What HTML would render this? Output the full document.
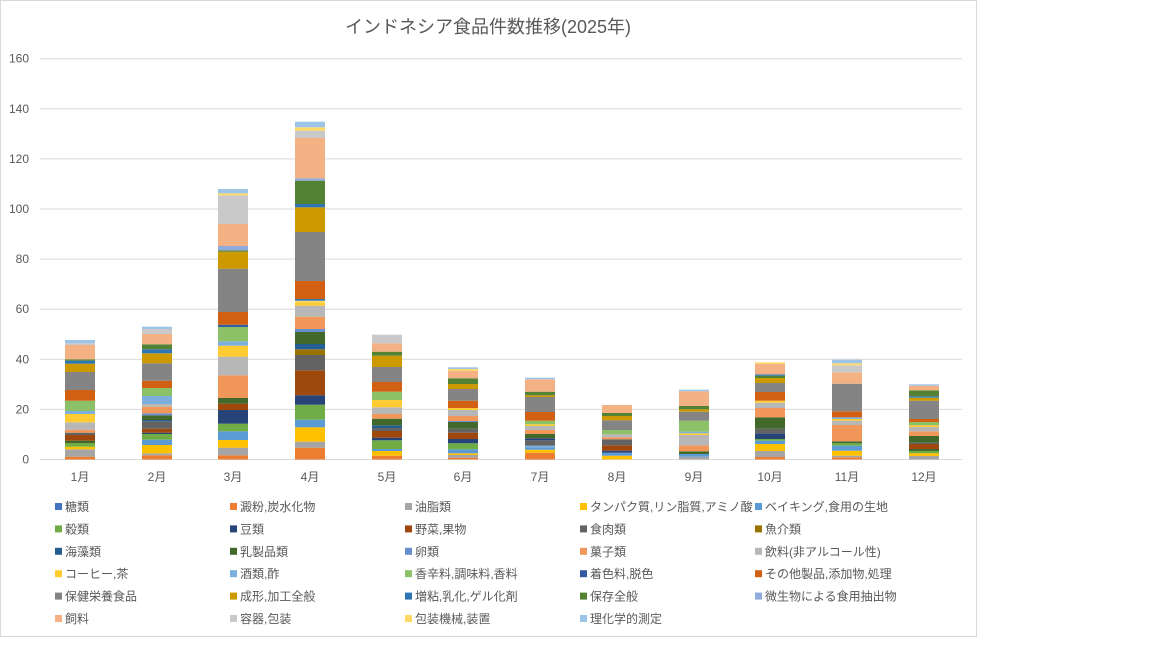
<!DOCTYPE html>
<html><head><meta charset="utf-8">
<style>
html,body{margin:0;padding:0;background:#fff;}
body{width:1152px;height:648px;overflow:hidden;font-family:"Liberation Sans","Noto Sans CJK JP",sans-serif;}
svg text{font-family:"Liberation Sans","Noto Sans CJK JP",sans-serif;fill:#595959;}
</style></head><body>
<svg id="s" width="1152" height="648" xmlns="http://www.w3.org/2000/svg">
<rect x="0.5" y="0.5" width="976" height="636" fill="#fff" stroke="#d9d9d9"/>
<text x="488" y="33" font-size="18" text-anchor="middle">インドネシア食品件数推移(2025年)</text>
<g id="grid"></g><g id="bars"></g><g id="leg"></g>
</svg>
<script>
var NS="http://www.w3.org/2000/svg";
function el(p,t,a,txt){var e=document.createElementNS(NS,t);for(var k in a)e.setAttribute(k,a[k]);if(txt!=null)e.textContent=txt;p.appendChild(e);return e;}
var g=document.getElementById('grid');
for(var i=0;i<=8;i++){var y=459.5-i*50.1;el(g,'line',{x1:40,x2:962,y1:y,y2:y,stroke:i==0?'#d9d9d9':'#d9d9d9','stroke-width':1});
el(g,'text',{x:29,y:y+4,'font-size':12,'text-anchor':'end'},String(i*20));}
var C={a:'#4472C4',b:'#ED7D31',c:'#A5A5A5',d:'#FFC000',e:'#5B9BD5',f:'#70AD47',g:'#264478',h:'#9E480E',i:'#636363',j:'#997300',k:'#255E91',l:'#43682B',m:'#698ED0',n:'#F1975A',o:'#B7B7B7',p:'#FFCD33',q:'#7CAFDD',r:'#8CC168',s:'#335AA1',t:'#D26012',u:'#848484',v:'#CC9A00',w:'#2E75B6',x:'#548235',y:'#8FAADC',z:'#F4B183',A:'#C9C9C9',B:'#FFD966',C:'#9DC3E6'};
var B=[
[80,[[456.7,'b'],[449.3,'c'],[446.7,'d'],[443,'f'],[440.7,'l'],[435,'h'],[432.7,'i'],[429.7,'n'],[422.3,'o'],[414,'p'],[411,'q'],[400.7,'r'],[390,'t'],[372,'u'],[363.7,'v'],[360.7,'w'],[359.3,'x'],[345,'z'],[343.3,'A'],[340,'C']]],
[157,[[455.3,'b'],[453.3,'c'],[445,'d'],[439.7,'e'],[434,'f'],[432.7,'g'],[428.7,'h'],[421.3,'i'],[420,'k'],[415.3,'l'],[413.3,'m'],[406.7,'n'],[404,'o'],[396,'q'],[388,'r'],[380.7,'t'],[363.3,'u'],[353.3,'v'],[349.3,'w'],[344.3,'x'],[334,'z'],[329,'A'],[326.7,'C']]],
[233,[[455.3,'b'],[447.7,'c'],[440,'d'],[431.3,'e'],[423.7,'f'],[410,'g'],[403.7,'h'],[398,'l'],[375.3,'n'],[356.7,'o'],[345.7,'p'],[341.3,'q'],[327,'r'],[324.7,'s'],[312,'t'],[268.7,'u'],[251.7,'v'],[250.3,'x'],[246,'y'],[224,'z'],[195.3,'A'],[193.3,'B'],[189,'C']]],
[310,[[447.7,'b'],[441.7,'c'],[427.3,'d'],[419.7,'e'],[404.7,'f'],[395.3,'g'],[370.3,'h'],[355,'i'],[349.3,'j'],[344,'k'],[332,'l'],[329,'m'],[316.7,'n'],[305.7,'o'],[302.3,'p'],[300.7,'B'],[299,'w'],[281,'t'],[232,'u'],[207.3,'v'],[204,'w'],[180.7,'x'],[178.3,'y'],[138,'z'],[130.7,'A'],[127.3,'B'],[121.7,'C']]],
[387,[[455.7,'b'],[451,'d'],[449,'e'],[440.3,'f'],[437.7,'g'],[431,'h'],[428,'i'],[425.3,'k'],[418.7,'l'],[414,'n'],[407.3,'o'],[400,'p'],[391.7,'r'],[382,'t'],[367,'u'],[355.7,'v'],[351.7,'x'],[343.3,'z'],[334.7,'A']]],
[463,[[457.7,'b'],[455,'c'],[453.3,'d'],[449.3,'e'],[443.3,'f'],[439,'g'],[432.7,'h'],[428.7,'i'],[422,'l'],[421,'m'],[416,'n'],[410,'o'],[408,'p'],[400.7,'t'],[389,'u'],[384,'v'],[378.3,'x'],[370.7,'z'],[369,'B'],[367.3,'C']]],
[540,[[452.7,'b'],[449.7,'d'],[447.3,'e'],[445.7,'q'],[440.3,'i'],[438.3,'g'],[434,'l'],[430,'n'],[426,'o'],[424.3,'p'],[420.7,'r'],[412,'t'],[397,'u'],[395.3,'v'],[391.7,'x'],[379.3,'z'],[377.7,'C']]],
[617,[[455.7,'d'],[452.7,'e'],[450.7,'g'],[445.3,'h'],[439.3,'i'],[437.3,'n'],[434.3,'o'],[430,'r'],[420.3,'u'],[416,'v'],[413,'x'],[405,'z']]],
[694,[[456.7,'c'],[454,'e'],[451.3,'l'],[445.3,'n'],[435,'o'],[433.3,'p'],[431.7,'q'],[420.7,'r'],[411.7,'u'],[409.3,'v'],[406,'x'],[391.3,'z'],[389.7,'C']]],
[770,[[457,'b'],[451,'c'],[444,'d'],[440.7,'e'],[439,'f'],[433.3,'g'],[428.7,'i'],[417.3,'l'],[408,'n'],[402.7,'o'],[400.7,'p'],[392,'t'],[383,'u'],[378,'v'],[375.7,'x'],[374.3,'w'],[363.7,'z'],[362.3,'B']]],
[847,[[457.3,'b'],[455.7,'c'],[450.7,'d'],[445.7,'e'],[443.3,'f'],[441.3,'l'],[425,'n'],[420.7,'o'],[419,'p'],[417.3,'q'],[411.3,'t'],[383.7,'u'],[372.3,'z'],[365.3,'A'],[363.3,'B'],[359.7,'C']]],
[924,[[456,'c'],[453.3,'d'],[451,'f'],[449,'l'],[444,'h'],[442.7,'i'],[436,'l'],[431.3,'n'],[427,'o'],[425.3,'p'],[422,'r'],[419,'t'],[400.7,'u'],[397.7,'v'],[396.3,'w'],[390.3,'x'],[385.7,'z'],[384.3,'C']]]
];
var bg=document.getElementById('bars');
var mon=['1月','2月','3月','4月','5月','6月','7月','8月','9月','10月','11月','12月'];
B.forEach(function(b,idx){var cx=b[0],prev=459.5;
b[1].forEach(function(s){el(bg,'rect',{x:cx-15,y:s[0],width:30,height:Math.max(prev-s[0],0.3),fill:C[s[1]]});prev=s[0];});
el(bg,'text',{x:cx,y:481,'font-size':12,'text-anchor':'middle'},mon[idx]);});
var L=[['糖類','a'],['澱粉,炭水化物','b'],['油脂類','c'],['タンパク質,リン脂質,アミノ酸','d'],['ベイキング,食用の生地','e'],
['穀類','f'],['豆類','g'],['野菜,果物','h'],['食肉類','i'],['魚介類','j'],
['海藻類','k'],['乳製品類','l'],['卵類','m'],['菓子類','n'],['飲料(非アルコール性)','o'],
['コーヒー,茶','p'],['酒類,酢','q'],['香辛料,調味料,香料','r'],['着色料,脱色','s'],['その他製品,添加物,処理','t'],
['保健栄養食品','u'],['成形,加工全般','v'],['増粘,乳化,ゲル化剤','w'],['保存全般','x'],['微生物による食用抽出物','y'],
['飼料','z'],['容器,包装','A'],['包装機械,装置','B'],['理化学的測定','C']];
var lg=document.getElementById('leg');
L.forEach(function(it,i){var col=i%5,row=Math.floor(i/5);var x=55+col*175,y=507+row*22.4;
el(lg,'rect',{x:x,y:y-4,width:7,height:7,fill:C[it[1]]});
el(lg,'text',{x:x+10,y:y+4,'font-size':12},it[0]);});
</script>
</body></html>
